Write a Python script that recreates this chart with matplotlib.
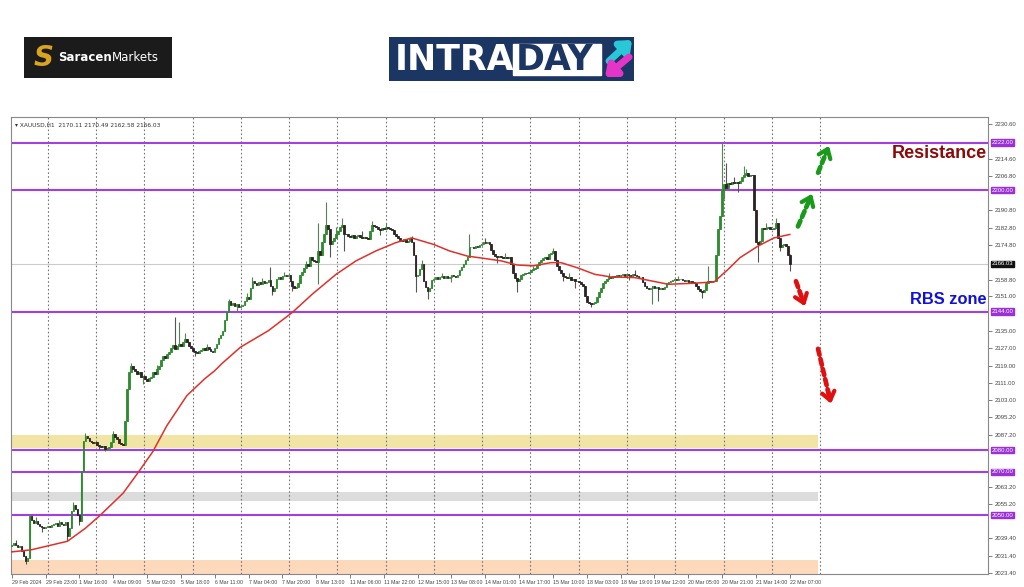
import numpy as np
import matplotlib.pyplot as plt
import matplotlib.transforms as mtransforms
from matplotlib.patches import Rectangle

# hourly closes, XAUUSD H1 (29 Feb 2024 -> 22 Mar 07:00)
closes = [
    2036.4, 2037.0, 2036.2, 2035.5, 2036.0, 2033.5, 2031.0, 2029.0, 2030.5, 2049.6,
    2048.0, 2046.5, 2047.2, 2045.8, 2045.0, 2044.6, 2044.0, 2044.5, 2045.2, 2044.8,
    2045.5, 2045.9, 2046.3, 2045.2, 2046.8, 2046.0, 2045.5, 2047.0, 2040.4, 2044.0,
    2052.0, 2054.7, 2053.0, 2050.0, 2047.5, 2070.3, 2084.5, 2086.4, 2085.6, 2084.5,
    2084.0, 2083.2, 2083.8, 2082.5, 2082.0, 2081.5, 2081.8, 2080.8, 2081.0, 2081.5,
    2084.0, 2087.7, 2086.0, 2085.0, 2083.5, 2083.0, 2082.5, 2093.3, 2108.4, 2116.0,
    2119.0, 2117.5, 2116.7, 2115.0, 2116.0, 2113.8, 2114.5, 2112.8, 2112.0, 2113.5,
    2114.0, 2116.0, 2115.2, 2117.5, 2119.0, 2121.5, 2123.6, 2122.8, 2124.5, 2125.4,
    2127.0, 2128.5, 2126.8, 2128.0, 2129.0, 2128.2, 2130.0, 2131.4, 2130.0, 2128.0,
    2127.2, 2126.0, 2125.5, 2125.0, 2125.8, 2126.5, 2127.0, 2126.2, 2127.5, 2126.8,
    2126.0, 2125.5, 2127.0, 2129.0, 2132.0, 2133.0, 2135.0, 2140.0, 2144.0, 2148.8,
    2147.0, 2148.0, 2146.5, 2147.5, 2146.0, 2146.8, 2147.0, 2149.0, 2150.7, 2150.0,
    2155.0, 2158.0, 2157.0, 2156.2, 2157.5, 2156.8, 2158.0, 2157.2, 2157.8, 2158.5,
    2156.0, 2153.4, 2155.0, 2159.0, 2160.0, 2159.2, 2160.5, 2161.0, 2160.2, 2161.0,
    2158.0, 2156.0, 2155.0, 2155.5, 2157.0, 2161.0, 2162.5, 2164.0, 2166.0, 2165.2,
    2169.0, 2168.0, 2167.5, 2167.0, 2171.8, 2170.0, 2176.0, 2179.6, 2184.0, 2182.0,
    2175.0, 2176.5, 2178.0, 2180.0, 2181.0, 2183.0, 2184.0, 2180.0, 2179.6, 2179.0,
    2178.5, 2179.2, 2178.0, 2178.8, 2179.5, 2178.2, 2177.8, 2178.5, 2178.0, 2177.5,
    2181.0, 2184.0, 2183.5, 2183.0, 2182.2, 2181.8, 2182.5, 2182.0, 2183.0, 2182.5,
    2182.0, 2181.5, 2180.0, 2179.0, 2178.0, 2177.0, 2176.5, 2177.5, 2176.0, 2176.8,
    2178.0, 2176.0, 2170.0, 2160.3, 2161.0, 2163.5, 2166.0, 2158.0, 2155.5, 2153.5,
    2155.0, 2158.5, 2159.0, 2159.8, 2159.2, 2160.0, 2160.5, 2159.6, 2160.2, 2159.5,
    2160.0, 2160.8, 2160.2, 2159.8, 2161.0, 2163.0, 2164.5, 2166.0, 2168.0, 2169.0,
    2173.6, 2174.0, 2173.5, 2174.2, 2173.8, 2174.5, 2175.2, 2176.0, 2175.5, 2176.2,
    2175.0, 2172.5, 2170.4, 2169.5, 2169.0, 2169.8, 2169.0, 2168.6, 2169.3, 2168.8,
    2169.0, 2166.0, 2162.0, 2159.5, 2158.0, 2159.0, 2161.0, 2161.5, 2162.0, 2161.8,
    2162.5, 2163.0, 2163.5, 2164.0, 2165.5, 2167.0, 2168.0, 2168.5, 2169.0, 2168.2,
    2170.4, 2171.0, 2171.8, 2168.0, 2165.0, 2163.0, 2162.0, 2160.5, 2160.0, 2159.5,
    2160.0, 2158.8, 2159.2, 2158.0, 2158.2, 2157.5, 2156.6, 2156.0, 2151.0, 2148.4,
    2148.0, 2147.5, 2147.8, 2148.5, 2150.7, 2153.0, 2155.0, 2157.0, 2158.0, 2159.0,
    2160.0, 2159.5, 2160.5, 2160.0, 2161.0, 2160.2, 2160.8, 2161.2, 2160.5, 2161.5,
    2161.0, 2160.6, 2161.4, 2160.8, 2160.2, 2159.8, 2160.0, 2157.5, 2156.0, 2155.0,
    2154.4, 2155.0, 2155.7, 2154.8, 2155.2, 2154.4, 2155.0, 2154.6, 2155.5, 2157.0,
    2157.5, 2158.0, 2158.5, 2159.0, 2158.6, 2159.2, 2159.0, 2158.5, 2158.0, 2158.4,
    2157.8, 2158.2, 2157.5, 2157.0, 2156.0, 2154.4, 2153.5, 2153.0, 2154.0, 2157.0,
    2158.0, 2157.5, 2158.2, 2158.0, 2170.0, 2182.0, 2187.9, 2200.0, 2203.0, 2201.0,
    2203.5, 2202.8, 2204.0, 2203.2, 2204.0, 2203.5, 2204.2, 2206.0, 2207.0, 2208.0,
    2206.5, 2207.2, 2207.0, 2191.0, 2176.0, 2175.0, 2176.5, 2182.8, 2182.0, 2182.5,
    2183.0, 2182.2, 2182.0, 2182.5, 2185.1, 2178.0, 2174.0, 2174.8, 2175.0, 2174.2,
    2170.11, 2166.03,
]
first_open = 2036.0

# visible wick extremes (bar index -> price)
wick_high = {
    2: 2038.5, 9: 2050.5, 12: 2049.0, 24: 2048.0, 31: 2056.0, 37: 2088.0, 51: 2089.0,
    60: 2120.5, 73: 2119.5, 82: 2141.5, 84: 2139.0, 87: 2134.0, 98: 2129.0, 109: 2150.0,
    118: 2152.5, 121: 2160.0, 126: 2159.5, 130: 2164.5, 137: 2162.5, 148: 2167.5,
    154: 2185.0, 158: 2194.8, 163: 2183.0, 166: 2187.4, 176: 2181.0, 181: 2186.0,
    188: 2185.0, 201: 2179.0, 206: 2168.0, 216: 2162.0, 230: 2179.6, 238: 2178.0,
    248: 2171.0, 262: 2165.0, 272: 2173.5, 280: 2162.0, 300: 2162.0, 313: 2163.0,
    335: 2160.5, 350: 2165.0, 357: 2222.3, 359: 2212.7, 363: 2206.0, 368: 2211.0,
    369: 2210.0, 379: 2185.0, 384: 2187.0, 391: 2170.49,
}
wick_low = {
    7: 2027.5, 15: 2042.5, 28: 2038.0, 34: 2045.5, 44: 2080.0, 47: 2079.5, 66: 2110.5,
    92: 2123.5, 113: 2144.5, 131: 2151.5, 141: 2153.5, 154: 2156.6, 160: 2169.0,
    167: 2172.0, 185: 2179.5, 203: 2153.0, 209: 2150.0, 221: 2157.5, 244: 2166.5,
    254: 2153.0, 277: 2158.0, 283: 2155.0, 291: 2146.0, 310: 2158.5, 322: 2147.5,
    325: 2149.0, 347: 2150.5, 358: 2196.0, 365: 2199.0, 375: 2166.8, 386: 2172.0,
    391: 2162.58,
}

# moving average
ma_bars = [0, 10, 28, 37, 44, 56, 64, 71, 78, 88, 97, 102, 105.5, 115, 129, 141,
           151, 163, 173, 183, 193, 201, 212, 220, 229, 237, 246, 254, 262, 271,
           276, 284, 293, 301, 313, 330, 343, 353, 360, 366, 375, 383, 391]
ma_vals = [2033.1, 2034.1, 2038.0, 2044.0, 2049.6, 2060.2, 2070.3, 2079.5, 2091.4,
           2105.2, 2113.0, 2116.7, 2119.9, 2127.6, 2135.2, 2143.6, 2152.0, 2161.2,
           2167.4, 2172.0, 2175.8, 2178.0, 2175.0, 2172.0, 2169.6, 2168.6, 2167.4,
           2165.5, 2165.1, 2166.6, 2166.6, 2164.3, 2161.2, 2160.0, 2159.7, 2156.6,
           2157.1, 2157.7, 2163.5, 2168.9, 2174.2, 2178.0, 2179.6]

levels = [2222.0, 2200.0, 2144.0, 2080.0, 2070.0, 2050.0]
zones = [(2081.0, 2087.0), (2056.5, 2060.6), (2023.0, 2029.4)]
zone_colors = ['#f1e5a6', '#dcdcdc', '#fdd9bb']
last_price = 2166.03

# right-axis ticks that are not hidden behind the level boxes
ytick_vals = [2230.6, 2214.6, 2206.8, 2190.8, 2182.8, 2174.8,
              2158.8, 2151.0, 2135.0, 2127.0, 2119.0, 2111.0, 2103.0, 2095.2,
              2087.2, 2063.2, 2055.2, 2039.4, 2031.4, 2023.4]
xtick_labels = ['29 Feb 2024', '29 Feb 23:00', '1 Mar 16:00', '4 Mar 09:00', '5 Mar 02:00',
                '5 Mar 18:00', '6 Mar 11:00', '7 Mar 04:00', '7 Mar 20:00', '8 Mar 13:00',
                '11 Mar 06:00', '11 Mar 22:00', '12 Mar 15:00', '13 Mar 08:00',
                '14 Mar 01:00', '14 Mar 17:00', '15 Mar 10:00', '18 Mar 03:00',
                '18 Mar 19:00', '19 Mar 12:00', '20 Mar 05:00', '20 Mar 21:00',
                '21 Mar 14:00', '22 Mar 07:00']
bars_per_label = 17

# ---------------------------------------------------------------------------
c = np.array(closes)
o = np.concatenate([[first_open], c[:-1]])
o[-1] = 2170.11
hi = np.maximum(o, c)
lo = np.minimum(o, c)
for k, v in wick_high.items():
    hi[k] = max(hi[k], v)
for k, v in wick_low.items():
    lo[k] = min(lo[k], v)
idx = np.arange(len(c))

fig = plt.figure(figsize=(10.24, 5.87), dpi=100)
fig.patch.set_facecolor('white')
ax = fig.add_axes([11 / 1024, 13 / 587, 977 / 1024, 457 / 587])

xmax = 490.6
band_end = 405.2
ax.set_xlim(-0.35, xmax)
ax.set_ylim(2022.9, 2233.8)

for (y0, y1), col in zip(zones, zone_colors):
    ax.add_patch(Rectangle((-0.35, y0), band_end + 0.35, y1 - y0, color=col, lw=0, zorder=0))

# dashed vertical grid
for k in range(17):
    ax.axvline(18.2 + 24.25 * k, color='#777777', lw=0.8, ls=(0, (1.5, 2)), zorder=0.5)

ax.axhline(last_price, color='#cccccc', lw=0.8, zorder=0.6)
for lv in levels:
    ax.axhline(lv, color='#a13fe0', lw=1.5, zorder=1)

up = c >= o
wick_col = np.where(up, '#5a7f5a', '#555555')
ax.vlines(idx, lo, hi, colors=wick_col, lw=0.8, zorder=2)
ax.bar(idx[up], (c - o)[up], bottom=o[up], width=0.8, color='#2e8b2e',
       edgecolor='#2e8b2e', lw=0.6, zorder=3)
ax.bar(idx[~up], (o - c)[~up], bottom=c[~up], width=0.8, color='#2d2424',
       edgecolor='#2d2424', lw=0.6, zorder=3)

ax.plot(ma_bars, ma_vals, color='#e0302a', lw=1.1, zorder=4)

# axes styling (MT4 look)
for s in ax.spines.values():
    s.set_color('#888888')
    s.set_linewidth(0.8)
ax.yaxis.tick_right()
ax.set_yticks(ytick_vals)
ax.set_yticklabels(['%.2f' % v for v in ytick_vals], fontsize=4.3, color='#444444',
                   family='Liberation Sans')
ax.tick_params(axis='y', length=3, width=0.6, color='#666666', pad=2)
xt = np.arange(len(xtick_labels)) * bars_per_label
ax.set_xticks(xt)
ax.set_xticklabels(xtick_labels, fontsize=3.8, color='#444444', ha='left',
                   family='Liberation Sans')
ax.tick_params(axis='x', length=3, width=0.6, color='#666666', pad=1.5)

blend = mtransforms.blended_transform_factory(ax.transAxes, ax.transData)
for lv in levels:
    ax.text(1.004, lv, '%.2f' % lv, transform=blend, fontsize=4.3, color='white',
            va='center', ha='left', zorder=10, clip_on=False, family='Liberation Sans',
            bbox=dict(boxstyle='square,pad=0.12', fc='#9b30d9', ec='#9b30d9'))
ax.text(1.004, last_price, '%.2f' % last_price, transform=blend, fontsize=4.3, color='white',
        va='center', ha='left', zorder=10, clip_on=False, family='Liberation Sans',
        bbox=dict(boxstyle='square,pad=0.12', fc='#111111', ec='#111111'))

ax.text(0.004, 0.988, '\u25be XAUUSD,H1  2170.11 2170.49 2162.58 2166.03', transform=ax.transAxes,
        fontsize=4.2, color='#333333', va='top', ha='left')

ax.text(0.999, 0.921, 'Resistance', transform=ax.transAxes, fontsize=13, fontweight='bold',
        family='Liberation Sans', color='#8b0a0a', ha='right', va='center')
ax.text(0.998, 0.60, 'RBS zone', transform=ax.transAxes, fontsize=11.8, fontweight='bold',
        family='Liberation Sans', color='#1010d8', ha='right', va='center')


def dashed_arrow(tail, head, col):
    ax.annotate('', xy=head, xytext=tail,
                arrowprops=dict(arrowstyle='-', lw=3.4, ls=(0, (1.3, 0.9)), color=col,
                                shrinkA=0, shrinkB=3), zorder=6)
    dx, dy = head[0] - tail[0], head[1] - tail[1]
    ax.annotate('', xy=head, xytext=(head[0] - 0.25 * dx, head[1] - 0.25 * dy),
                arrowprops=dict(arrowstyle='->,head_length=0.6,head_width=0.45', lw=3,
                                color=col, shrinkA=0, shrinkB=0), zorder=6)


dashed_arrow((395.1, 2183.3), (402.2, 2198.4), '#1a9a1a')
dashed_arrow((405.2, 2208.1), (410.7, 2220.5), '#1a9a1a')
dashed_arrow((394.1, 2158.0), (398.6, 2146.5), '#e01010')
dashed_arrow((405.2, 2126.8), (411.7, 2101.5), '#e01010')

# --- header logos
lg = fig.add_axes([24 / 1024, 1 - 78 / 587, 148 / 1024, 41 / 587])
lg.set_facecolor('#1b1b1b')
lg.set_xticks([])
lg.set_yticks([])
for s in lg.spines.values():
    s.set_visible(False)
lg.text(0.13, 0.5, 'S', fontsize=20, fontweight='bold', style='italic', color='#d9a520',
        ha='center', va='center', transform=lg.transAxes)
t1 = lg.text(0.23, 0.5, 'Saracen', fontsize=8.5, fontweight='bold', color='white',
             ha='left', va='center', transform=lg.transAxes)
lg.annotate('Markets', xycoords=t1, xy=(1, 0.5), va='center', ha='left', fontsize=8.5,
            color='white')

ib = fig.add_axes([389 / 1024, 1 - 81 / 587, 245 / 1024, 44 / 587])
ib.set_facecolor('#1c3664')
ib.set_xlim(0, 245)
ib.set_ylim(0, 44)
ib.set_xticks([])
ib.set_yticks([])
for s in ib.spines.values():
    s.set_visible(False)
ib.text(6, 21, 'INTRA', fontsize=25, fontweight='bold', color='white', ha='left',
        va='center')
ib.add_patch(Rectangle((124, 6), 88, 31, fc='white', ec='white'))
ib.text(127, 21, 'DAY', fontsize=25, fontweight='bold', color='#1c3664', ha='left',
        va='center')
ib.annotate('', xy=(243, 41), xytext=(220, 20),
            arrowprops=dict(arrowstyle='-|>,head_length=0.6,head_width=0.5', lw=5,
                            color='#29c8d8', shrinkA=0, shrinkB=0))
ib.annotate('', xy=(216, 4), xytext=(240, 24),
            arrowprops=dict(arrowstyle='-|>,head_length=0.6,head_width=0.5', lw=5,
                            color='#e535c8', shrinkA=0, shrinkB=0))

fig.savefig('out.png', dpi=100, facecolor='white')
